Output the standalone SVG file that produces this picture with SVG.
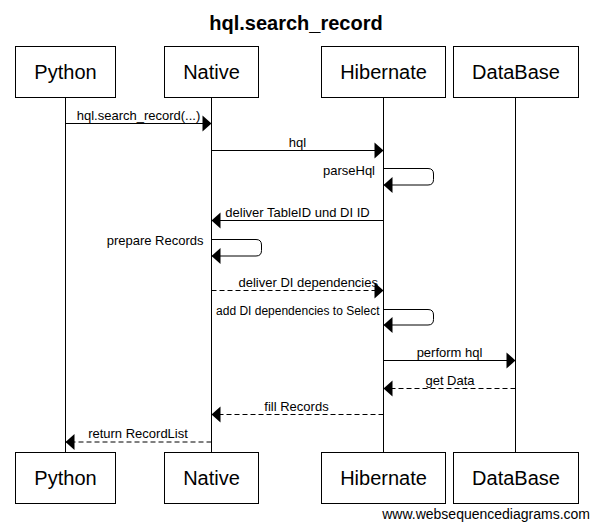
<svg xmlns="http://www.w3.org/2000/svg" width="591" height="526" viewBox="0 0 591 526">
<style>
text{font-family:"Liberation Sans",Arial,sans-serif;fill:#000}
.title{font-size:20px;font-weight:bold;text-anchor:middle}
.pbox{fill:#fff;stroke:#000;stroke-width:1}
.pname{font-size:20px;text-anchor:middle}
.life{stroke:#000;stroke-width:1;fill:none}
.msg{stroke:#000;stroke-width:1;fill:none}
.dash{stroke-dasharray:5,3}
.lbl{font-size:13px;text-anchor:middle}
.lbl-end{font-size:13px;text-anchor:end}
.lbl-start{font-size:13px;text-anchor:start}
.wm{font-size:14px;text-anchor:end}
</style>
<defs>
<marker id="ah" markerUnits="userSpaceOnUse" markerWidth="10" markerHeight="18" refX="9" refY="8" orient="auto" overflow="visible">
<path d="M0,0 L9,8 L0,16 Z" fill="#000" stroke="none"/>
</marker>
</defs>
<rect width="591" height="526" fill="#fff"/>
<text class="title" x="296" y="30">hql.search_record</text>

<g id="lifelines">
<line class="life" x1="65.5" y1="97.5" x2="65.5" y2="452.5"/>
<line class="life" x1="211.5" y1="97.5" x2="211.5" y2="452.5"/>
<line class="life" x1="383.5" y1="97.5" x2="383.5" y2="452.5"/>
<line class="life" x1="515.5" y1="97.5" x2="515.5" y2="452.5"/>
</g>

<g id="python">
<rect class="pbox" x="15.5" y="46.5" width="100" height="51"/>
<text class="pname" x="65.5" y="78.5">Python</text>
<rect class="pbox" x="15.5" y="452.5" width="100" height="51"/>
<text class="pname" x="65.5" y="484.5">Python</text>
</g>
<g id="native">
<rect class="pbox" x="164.5" y="46.5" width="94" height="51"/>
<text class="pname" x="211.5" y="78.5">Native</text>
<rect class="pbox" x="164.5" y="452.5" width="94" height="51"/>
<text class="pname" x="211.5" y="484.5">Native</text>
</g>
<g id="hibernate">
<rect class="pbox" x="321.5" y="46.5" width="124" height="51"/>
<text class="pname" x="383.5" y="78.5">Hibernate</text>
<rect class="pbox" x="321.5" y="452.5" width="124" height="51"/>
<text class="pname" x="383.5" y="484.5">Hibernate</text>
</g>
<g id="database">
<rect class="pbox" x="453.5" y="46.5" width="125" height="51"/>
<text class="pname" x="516" y="78.5">DataBase</text>
<rect class="pbox" x="453.5" y="452.5" width="125" height="51"/>
<text class="pname" x="516" y="484.5">DataBase</text>
</g>

<g id="connectors">
<line class="msg" x1="65.5" y1="123.5" x2="211.5" y2="123.5" marker-end="url(#ah)"/>
<text class="lbl" x="138.5" y="119.5">hql.search_record(...)</text>

<line class="msg" x1="211.5" y1="150.5" x2="383.5" y2="150.5" marker-end="url(#ah)"/>
<text class="lbl" x="297.5" y="146.5">hql</text>

<path class="msg" d="M383.5,168.5 H428 Q433.5,168.5 433.5,174 V179.5 Q433.5,185 428,185 H383.5" marker-end="url(#ah)"/>
<text class="lbl-end" x="375" y="175">parseHql</text>

<line class="msg" x1="383.5" y1="220.5" x2="211.5" y2="220.5" marker-end="url(#ah)"/>
<text class="lbl" x="297.5" y="216.5">deliver TableID und DI ID</text>

<path class="msg" d="M211.5,239.5 H256 Q261.5,239.5 261.5,245 V250.5 Q261.5,256 256,256 H211.5" marker-end="url(#ah)"/>
<text class="lbl-end" x="203.5" y="245">prepare Records</text>

<line class="msg dash" x1="211.5" y1="290.5" x2="383.5" y2="290.5" marker-end="url(#ah)"/>
<text class="lbl-start" x="238.5" y="286.5">deliver DI dependencies</text>

<path class="msg" d="M383.5,309.5 H428 Q433.5,309.5 433.5,315 V319.5 Q433.5,325 428,325 H383.5" marker-end="url(#ah)"/>
<text class="lbl-end" x="379.5" y="315" style="font-size:12px">add DI dependencies to Select</text>

<line class="msg" x1="383.5" y1="360.5" x2="515.5" y2="360.5" marker-end="url(#ah)"/>
<text class="lbl" x="449.5" y="356.5">perform hql</text>

<line class="msg dash" x1="515.5" y1="388.5" x2="383.5" y2="388.5" marker-end="url(#ah)"/>
<text class="lbl" x="450" y="384.5">get Data</text>

<line class="msg dash" x1="383.5" y1="414.5" x2="211.5" y2="414.5" marker-end="url(#ah)"/>
<text class="lbl" x="296.5" y="410.5">fill Records</text>

<line class="msg dash" x1="211.5" y1="442" x2="65.5" y2="442" marker-end="url(#ah)"/>
<text class="lbl" x="138" y="438">return RecordList</text>
</g>

<text class="wm" x="590" y="519">www.websequencediagrams.com</text>
</svg>
